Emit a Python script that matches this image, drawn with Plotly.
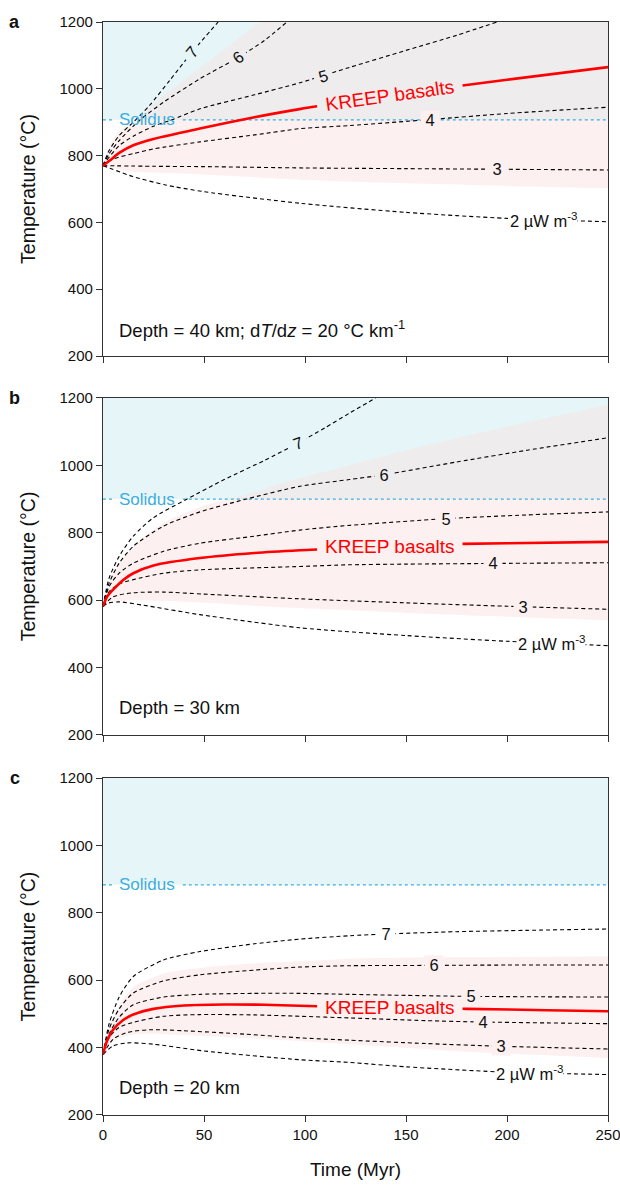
import numpy as np
import plotly.graph_objects as go

# ---------------- data ----------------
# Panel a : depth 40 km
a_t2 = [0, 15, 31, 50, 98, 150, 200, 250]
a_v2 = [770, 737, 712, 692, 657, 630, 612, 602]
a_t3 = [0, 25, 50, 100, 150, 200, 250]
a_v3 = [770, 768, 767, 763, 761, 759, 757]
a_t4 = [0, 5, 15, 25, 48, 75, 98, 122, 162, 200, 250]
a_v4 = [770, 790, 806, 820, 841, 862, 881, 890, 908, 926, 945]
a_t5 = [0, 3, 8, 15, 25, 34, 48, 75, 98, 122, 150, 175, 195]
a_v5 = [770, 795, 830, 858, 888, 907, 940, 982, 1019, 1064, 1115, 1160, 1200]
a_t6 = [0, 3, 8, 18, 30, 48, 67, 80, 91]
a_v6 = [770, 805, 845, 905, 960, 1030, 1094, 1145, 1200]
a_t7 = [0, 3, 8, 15, 23, 33, 44, 57]
a_v7 = [770, 815, 860, 900, 950, 1025, 1109, 1200]
a_tk = [0, 3.5, 8, 15, 25, 48, 75, 98, 125, 150, 178, 200, 250]
a_vk = [770, 786, 808, 831, 850, 881, 915, 940, 966, 988, 1010, 1027, 1065]
a_te = [0, 5, 15, 30, 48, 65, 78, 100, 150, 200, 250]
a_lo = [770, 762, 752, 748, 744, 738, 734, 727, 717, 709, 702]
a_hi = [770, 850, 907, 980, 1062, 1140, 1200, 1200, 1200, 1200, 1200]
a_sol = 907

# Panel b : depth 30 km
b_t2 = [0, 3, 8, 20, 48, 97.5, 150, 200, 250]
b_v2 = [582, 592, 595, 585, 557, 518, 495, 478, 465]
b_t3 = [0, 5, 15, 30, 50, 97.5, 150, 200, 250]
b_v3 = [582, 610, 622, 624, 618, 604, 592, 582, 573]
b_t4 = [0, 3, 8, 15, 30, 48, 97.5, 122, 150, 193, 250]
b_v4 = [582, 625, 648, 661, 680, 690, 700, 705, 707, 709, 711]
b_t5 = [0, 3, 8, 15, 30, 48, 75, 97.5, 122, 170, 210, 250]
b_v5 = [582, 640, 680, 710, 745, 769, 790, 808, 822, 842, 853, 862]
b_t6 = [0, 3, 8, 15, 30, 48, 71, 97.5, 122, 139, 175, 210, 250]
b_v6 = [582, 650, 710, 760, 820, 862, 900, 938, 958, 972, 1010, 1045, 1082]
b_t7 = [0, 3, 8, 15, 25, 41, 60, 80, 96.5, 110, 122, 135]
b_v7 = [582, 665, 730, 790, 845, 898, 958, 1015, 1066, 1112, 1155, 1200]
b_tk = [0, 2, 5, 10, 15, 25, 48, 75, 97.5, 150, 178, 200, 250]
b_vk = [582, 610, 631, 660, 680, 703, 725, 740, 748, 762, 767, 769, 773]
b_te = [0, 5, 15, 30, 50, 63, 90, 122, 150, 200, 250]
b_lo = [582, 595, 600, 598, 592, 588, 578, 570, 562, 551, 540]
b_hi = [582, 680, 760, 830, 880, 900, 950, 1000, 1045, 1115, 1180]
b_sol = 900

# Panel c : depth 20 km
c_t2 = [0, 5, 12, 25, 50, 97.5, 122, 150, 196, 250]
c_v2 = [380, 405, 414, 410, 390, 364, 356, 343, 328, 320]
c_t3 = [0, 5, 12, 23, 40, 70, 97.5, 122, 160, 197, 250]
c_v3 = [380, 425, 445, 453, 450, 440, 429, 422, 412, 404, 396]
c_t4 = [0, 3, 8, 15, 30, 48, 75, 97.5, 122, 160, 188, 250]
c_v4 = [380, 430, 460, 475, 493, 498, 497, 493, 488, 480, 476, 471]
c_t5 = [0, 3, 8, 15, 30, 48, 75, 97.5, 122, 150, 182, 250]
c_v5 = [380, 440, 490, 527, 550, 558, 561, 561, 558, 555, 552, 550]
c_t6 = [0, 3, 8, 15, 30, 48, 75, 97.5, 122, 164, 200, 250]
c_v6 = [380, 455, 515, 562, 598, 616, 630, 639, 643, 644, 645, 645]
c_t7 = [0, 3, 8, 15, 30, 48, 75, 97.5, 122, 140, 175, 210, 250]
c_v7 = [380, 470, 550, 611, 660, 685, 708, 722, 732, 737, 744, 748, 752]
c_tk = [0, 2, 5, 10, 15, 25, 40, 60, 80, 97.5, 130, 180, 220, 250]
c_vk = [380, 420, 453, 482, 498, 515, 525, 528, 527, 524, 520, 515, 511, 508]
c_te = [0, 3, 8, 15, 30, 48, 75, 97.5, 122, 175, 250]
c_lo = [380, 410, 428, 440, 440, 435, 427, 419, 410, 390, 369]
c_hi = [380, 460, 525, 580, 620, 636, 650, 656, 664, 668, 671]
c_sol = 883

label_texts = ["2 µW m<sup>-3</sup>", "3", "4", "5", "6", "7"]
depth_texts = ["Depth = 40 km; d<i>T</i>/d<i>z</i> = 20 °C km<sup>-1</sup>",
               "Depth = 30 km", "Depth = 20 km"]
panel_letters = ["a", "b", "c"]
x_ticks = [0, 50, 100, 150, 200, 250]
y_ticks = [200, 400, 600, 800, 1000, 1200]

CYAN = "#e6f5f7"
GRAY = "#eeeced"
PINK = "#fdf0f0"
WHITE = "#ffffff"
SOLC = "#3aaee0"

panels = [
    dict(curves=[(a_t2, a_v2), (a_t3, a_v3), (a_t4, a_v4), (a_t5, a_v5), (a_t6, a_v6), (a_t7, a_v7)],
         kreep=(a_tk, a_vk), env=(a_te, a_lo, a_hi), sol=a_sol,
         lab_t=[218, 195, 162, 109, 67, 44], lab_bg=[WHITE, PINK, PINK, GRAY, GRAY, CYAN],
         lab_ang=[0, 0, 0, -16, -37, -50],
         k_t=142, k_ang=-8),
    dict(curves=[(b_t2, b_v2), (b_t3, b_v3), (b_t4, b_v4), (b_t5, b_v5), (b_t6, b_v6), (b_t7, b_v7)],
         kreep=(b_tk, b_vk), env=(b_te, b_lo, b_hi), sol=b_sol,
         lab_t=[222, 208, 193, 170, 139, 96.5], lab_bg=[WHITE, PINK, PINK, PINK, GRAY, CYAN],
         lab_ang=[0, 0, 0, 0, 0, -20],
         k_t=142, k_ang=0),
    dict(curves=[(c_t2, c_v2), (c_t3, c_v3), (c_t4, c_v4), (c_t5, c_v5), (c_t6, c_v6), (c_t7, c_v7)],
         kreep=(c_tk, c_vk), env=(c_te, c_lo, c_hi), sol=c_sol,
         lab_t=[211, 197, 188, 182, 164, 140], lab_bg=[WHITE, PINK, PINK, PINK, PINK, WHITE],
         lab_ang=[0, 0, 0, 0, 0, 0],
         k_t=142, k_ang=0),
]

domains = [[0.6944, 1.0], [0.3477, 0.6560], [0.0, 0.3083]]
FONT = "Liberation Sans, Arial, sans-serif"
K_HALF_GAP = 36   # half width (Myr) of the break in the red line around its label

fig = go.Figure()
annotations = []
shapes = []

for i, p in enumerate(panels):
    xr = "x" if i == 0 else f"x{i+1}"
    yr = "y" if i == 0 else f"y{i+1}"
    S = p["sol"]
    te, lo, hi = p["env"]
    lo = np.array(lo, float)
    hi = np.array(hi, float)

    shapes.append(dict(type="rect", xref=xr, yref=yr, x0=0, x1=250, y0=S, y1=1200,
                       fillcolor=CYAN, line=dict(width=0), layer="below"))
    fig.add_trace(go.Scatter(x=te, y=lo, mode="lines", line=dict(width=0, shape="spline", smoothing=0.6),
                             xaxis=xr, yaxis=yr, showlegend=False, hoverinfo="skip"))
    fig.add_trace(go.Scatter(x=te, y=np.minimum(hi, S), mode="lines",
                             line=dict(width=0, shape="spline", smoothing=0.6),
                             fill="tonexty", fillcolor=PINK,
                             xaxis=xr, yaxis=yr, showlegend=False, hoverinfo="skip"))
    fig.add_trace(go.Scatter(x=te, y=np.maximum(lo, S), mode="lines", line=dict(width=0),
                             xaxis=xr, yaxis=yr, showlegend=False, hoverinfo="skip"))
    fig.add_trace(go.Scatter(x=te, y=np.maximum(hi, S), mode="lines",
                             line=dict(width=0, shape="spline", smoothing=0.6),
                             fill="tonexty", fillcolor=GRAY,
                             xaxis=xr, yaxis=yr, showlegend=False, hoverinfo="skip"))

    # solidus dotted line with a gap for its label
    sol_lab_t, sol_half = 22, 17.5
    fig.add_trace(go.Scatter(x=[0, sol_lab_t - sol_half, None, sol_lab_t + sol_half, 250],
                             y=[S, S, None, S, S], mode="lines",
                             line=dict(color=SOLC, width=1.3, dash="dot"),
                             xaxis=xr, yaxis=yr, showlegend=False, hoverinfo="skip"))
    annotations.append(dict(x=sol_lab_t, y=S, xref=xr, yref=yr, text="Solidus", showarrow=False,
                            font=dict(family=FONT, size=17, color=SOLC), xanchor="center", yanchor="middle"))

    for j, (tc, vc) in enumerate(p["curves"]):
        fig.add_trace(go.Scatter(x=tc, y=vc, mode="lines",
                                 line=dict(color="black", width=1.1, dash="4px,3px", shape="spline", smoothing=0.7),
                                 xaxis=xr, yaxis=yr, showlegend=False, hoverinfo="skip"))
        lt = p["lab_t"][j]
        ly = float(np.interp(lt, tc, vc))
        txt = label_texts[j] if j == 0 else "&nbsp;" + label_texts[j] + "&nbsp;"
        annotations.append(dict(x=lt, y=ly, xref=xr, yref=yr, text=txt, showarrow=False,
                                font=dict(family=FONT, size=16.5, color="#111"),
                                bgcolor=p["lab_bg"][j], borderpad=0, textangle=p["lab_ang"][j],
                                xanchor="center", yanchor="middle"))

    # KREEP basalts: red line broken around its label
    tk, vk = np.array(p["kreep"][0], float), np.array(p["kreep"][1], float)
    kt = p["k_t"]
    g0, g1 = kt - K_HALF_GAP, kt + K_HALF_GAP
    left_t = np.append(tk[tk < g0], g0)
    left_v = np.append(vk[tk < g0], np.interp(g0, tk, vk))
    right_t = np.insert(tk[tk > g1], 0, g1)
    right_v = np.insert(vk[tk > g1], 0, np.interp(g1, tk, vk))
    for xs, ys in ((left_t, left_v), (right_t, right_v)):
        fig.add_trace(go.Scatter(x=xs, y=ys, mode="lines",
                                 line=dict(color="#ff0000", width=2.6, shape="spline", smoothing=0.7),
                                 xaxis=xr, yaxis=yr, showlegend=False, hoverinfo="skip"))
    ky = float(np.interp(kt, tk, vk))
    annotations.append(dict(x=kt, y=ky, xref=xr, yref=yr, text="KREEP basalts", showarrow=False,
                            font=dict(family=FONT, size=19, color="#ff0000"),
                            textangle=p["k_ang"], xanchor="center", yanchor="middle"))

    annotations.append(dict(x=0.028, y=0.082, xref=f"{xr} domain", yref=f"{yr} domain", text=depth_texts[i],
                            showarrow=False, font=dict(family=FONT, size=18.5, color="#111"),
                            xanchor="left", yanchor="middle"))
    annotations.append(dict(x=-0.175, y=domains[i][1], xref="paper", yref="paper",
                            text=f"<b>{panel_letters[i]}</b>",
                            showarrow=False, font=dict(family=FONT, size=18, color="#111"),
                            xanchor="center", yanchor="middle"))

axis_common = dict(showline=True, linecolor="#333", linewidth=1.2, mirror=True, ticks="outside",
                   ticklen=6, tickcolor="#333", tickwidth=1.1, showgrid=False, zeroline=False,
                   ticklabeloverflow="allow", tickangle=0,
                   tickfont=dict(family=FONT, size=15, color="#111"))

layout = dict(width=620, height=1186, margin=dict(l=103, r=12, t=22, b=71, autoexpand=False),
              plot_bgcolor="white", paper_bgcolor="white",
              annotations=annotations, shapes=shapes, showlegend=False)

for i in range(3):
    xk = "xaxis" if i == 0 else f"xaxis{i+1}"
    yk = "yaxis" if i == 0 else f"yaxis{i+1}"
    ya = "y" if i == 0 else f"y{i+1}"
    xa = "x" if i == 0 else f"x{i+1}"
    xd = dict(axis_common, range=[0, 250], tickvals=x_ticks, automargin=False,
              domain=[0, 1], anchor=ya, showticklabels=(i == 2))
    if i == 2:
        xd["title"] = dict(text="Time (Myr)", standoff=20, font=dict(family=FONT, size=19, color="#111"))
    layout[xk] = xd
    layout[yk] = dict(axis_common, range=[200, 1200], tickvals=y_ticks, automargin=False,
                      domain=domains[i], anchor=xa,
                      title=dict(text="Temperature (°C)", standoff=18,
                                 font=dict(family=FONT, size=19.5, color="#111")))

fig.update_layout(**layout)
fig.write_html("out.html")
